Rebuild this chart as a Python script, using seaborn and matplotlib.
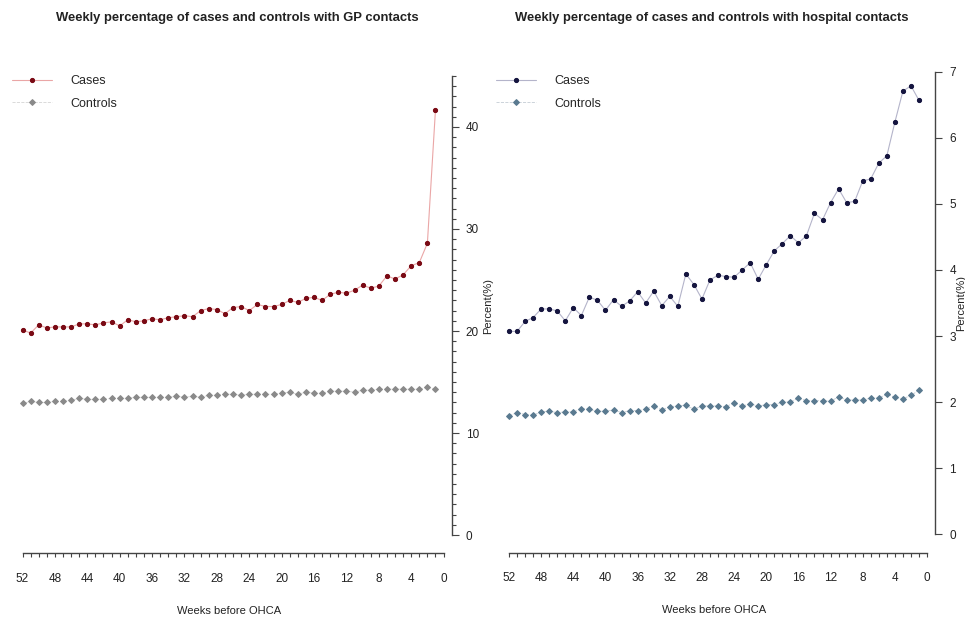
import numpy as np
import pandas as pd
import matplotlib
matplotlib.use('Agg')
import matplotlib.pyplot as plt
from matplotlib import font_manager
from matplotlib.ticker import FixedLocator
import seaborn as sns


# Данные (недели 52..1 до OHCA)
WEEKS = list(range(52, 0, -1))

GP_CASES = [20.1, 19.8, 20.6, 20.3, 20.4, 20.4, 20.4, 20.7, 20.7, 20.6,
            20.8, 20.9, 20.5, 21.1, 20.9, 21.0, 21.2, 21.1, 21.3, 21.4,
            21.5, 21.4, 22.0, 22.2, 22.1, 21.7, 22.3, 22.4, 22.0, 22.6,
            22.4, 22.4, 22.6, 23.0, 22.8, 23.2, 23.3, 23.0, 23.6, 23.8,
            23.7, 24.0, 24.5, 24.2, 24.4, 25.4, 25.1, 25.5, 26.4, 26.7,
            28.6, 41.7]
GP_CONTROLS = [12.9, 13.1, 13.0, 13.0, 13.1, 13.1, 13.2, 13.4, 13.3, 13.3,
               13.3, 13.4, 13.4, 13.4, 13.5, 13.5, 13.5, 13.5, 13.5, 13.6,
               13.5, 13.6, 13.5, 13.7, 13.7, 13.8, 13.8, 13.7, 13.8, 13.8,
               13.8, 13.8, 13.9, 14.0, 13.8, 14.0, 13.9, 13.9, 14.1, 14.1,
               14.1, 14.0, 14.2, 14.2, 14.3, 14.3, 14.3, 14.3, 14.3, 14.3,
               14.5, 14.3]

HOSP_CASES = [3.07, 3.07, 3.22, 3.28, 3.41, 3.41, 3.38, 3.23, 3.43, 3.31,
              3.59, 3.54, 3.39, 3.55, 3.45, 3.53, 3.67, 3.50, 3.68, 3.46,
              3.60, 3.45, 3.94, 3.78, 3.56, 3.85, 3.92, 3.90, 3.89, 4.00,
              4.11, 3.86, 4.08, 4.29, 4.40, 4.52, 4.41, 4.52, 4.86, 4.76,
              5.02, 5.23, 5.02, 5.04, 5.35, 5.38, 5.62, 5.73, 6.24, 6.71,
              6.79, 6.57]
HOSP_CONTROLS = [1.79, 1.84, 1.81, 1.80, 1.85, 1.86, 1.84, 1.85, 1.85, 1.90,
                 1.89, 1.86, 1.86, 1.88, 1.84, 1.87, 1.87, 1.89, 1.94, 1.88,
                 1.93, 1.94, 1.95, 1.89, 1.94, 1.94, 1.94, 1.93, 1.99, 1.94,
                 1.97, 1.94, 1.96, 1.96, 2.00, 2.00, 2.06, 2.02, 2.02, 2.02,
                 2.01, 2.08, 2.03, 2.03, 2.03, 2.06, 2.06, 2.12, 2.07, 2.05,
                 2.10, 2.18]

TITLES = ['Weekly percentage of cases and controls with GP contacts',
          'Weekly percentage of cases and controls with hospital contacts']
X_LABEL = 'Weeks before OHCA'
Y_LABEL = 'Percent(%)'
X_TICKS = list(range(52, -1, -4))


def pick_font():
    """Узкий шрифт, если он есть, иначе обычный Liberation Sans (мельче)."""
    try:
        font_manager.findfont('Liberation Sans Narrow', fallback_to_default=False)
        return 'Liberation Sans Narrow', 1.15
    except ValueError:
        return 'Liberation Sans', 1.0


def style_axis(ax, ymax, ymajor, yminor, k, ylabel_x):
    """Оси в стиле базовой графики R: ось X снизу, ось Y справа."""
    ax.set_xlim(54.04, -1.04)
    pad = ymax * 0.04
    ax.set_ylim(-pad, ymax + pad)
    for side in ['top', 'left']:
        ax.spines[side].set_visible(False)
    ax.spines['bottom'].set_bounds(0, 52)
    ax.spines['right'].set_bounds(0, ymax)
    for side in ['bottom', 'right']:
        ax.spines[side].set_visible(True)
        ax.spines[side].set_color('#444444')
        ax.spines[side].set_linewidth(1.0)
    ax.yaxis.tick_right()
    ax.xaxis.set_major_locator(FixedLocator(X_TICKS))
    ax.xaxis.set_minor_locator(FixedLocator(list(range(0, 53))))
    ax.set_xticklabels([str(t) for t in X_TICKS])
    ax.yaxis.set_major_locator(FixedLocator(list(np.arange(0, ymax + 0.01, ymajor))))
    if yminor:
        ax.yaxis.set_minor_locator(FixedLocator(list(np.arange(0, ymax + 0.01, yminor))))
    ax.tick_params(axis='x', which='both', bottom=True, top=False, length=3, width=0.8,
                   color='#444444', labelsize=8.5 * k, pad=11, labelcolor='#222222')
    ax.tick_params(axis='y', which='major', length=5, width=0.8, color='#444444',
                   labelsize=8.5 * k, pad=5, labelcolor='#222222', right=True, left=False)
    ax.tick_params(axis='y', which='minor', length=3, width=0.8, color='#444444',
                   right=True, left=False)
    ax.set_xlabel(X_LABEL, fontsize=8 * k, color='#222222', labelpad=15)
    ax.set_ylabel(Y_LABEL, fontsize=8 * k, color='#222222', rotation=90)
    ax.yaxis.set_label_position('right')
    ax.yaxis.set_label_coords(ylabel_x, 0.5)
    ax.grid(False)


def main():
    sns.set_style('white')
    family, k = pick_font()
    plt.rcParams['font.family'] = [family, 'DejaVu Sans']

    fig = plt.figure(figsize=(9.65, 6.2), dpi=100)
    ax1 = fig.add_axes([6 / 965, (620 - 553.4) / 620, 446 / 965, 495.8 / 620])
    ax2 = fig.add_axes([492.6 / 965, (620 - 552.5) / 620, 442.8 / 965, 499 / 620])

    gp = pd.DataFrame({'week': WEEKS, 'cases': GP_CASES, 'controls': GP_CONTROLS})
    hosp = pd.DataFrame({'week': WEEKS, 'cases': HOSP_CASES, 'controls': HOSP_CONTROLS})

    # Левая панель: обращения к врачу общей практики
    sns.lineplot(data=gp, x='week', y='cases', ax=ax1, color='#eaa6a6', lw=0.8,
                 marker='o', markersize=3, markerfacecolor='#7a0a14',
                 markeredgecolor='#7a0a14', label='Cases')
    sns.lineplot(data=gp, x='week', y='controls', ax=ax1, color='#d4d4d4', lw=0.6,
                 linestyle='--', marker='D', markersize=3, markerfacecolor='#8a8a8a',
                 markeredgecolor='#8a8a8a', label='Controls')

    # Правая панель: больничные обращения
    sns.lineplot(data=hosp, x='week', y='cases', ax=ax2, color='#b4b4ca', lw=0.8,
                 marker='o', markersize=3, markerfacecolor='#15153f',
                 markeredgecolor='#15153f', label='Cases')
    sns.lineplot(data=hosp, x='week', y='controls', ax=ax2, color='#c4ccd4', lw=0.6,
                 linestyle='--', marker='D', markersize=3, markerfacecolor='#5a7a90',
                 markeredgecolor='#5a7a90', label='Controls')

    style_axis(ax1, 45, 10, 1, k, 1.069)
    style_axis(ax2, 7, 1, None, k, 1.047)

    # Заголовки на фиксированной высоте
    fig.text(237 / 965, 1 - 18 / 620, TITLES[0], ha='center', va='center',
             fontsize=9.4 * k, fontweight='bold', color='#222222')
    fig.text(712 / 965, 1 - 18 / 620, TITLES[1], ha='center', va='center',
             fontsize=9.4 * k, fontweight='bold', color='#222222')

    # Легенды без рамки в левом верхнем углу
    for ax, x0, y0 in [(ax1, 6 / 446, 1 - (75 - 57.6) / 495.8),
                       (ax2, 3.4 / 442.8, 1 - (75 - 53.5) / 499)]:
        ax.legend(loc='upper left', bbox_to_anchor=(x0, y0), frameon=False,
                  borderaxespad=0, borderpad=0, fontsize=9 * k,
                  handlelength=3.2, handletextpad=1.5, labelspacing=0.85)

    fig.savefig('out.png', dpi=100)


if __name__ == '__main__':
    main()
